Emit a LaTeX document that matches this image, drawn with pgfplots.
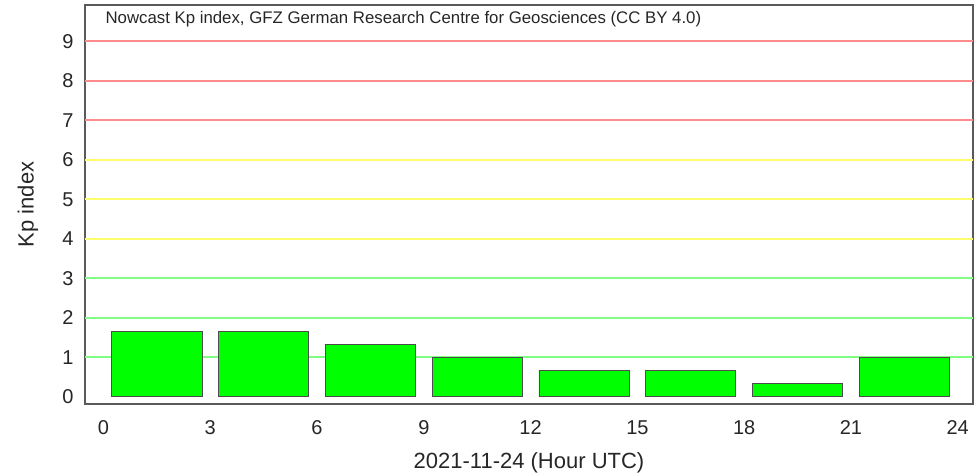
\documentclass[border=0pt]{standalone}
\usepackage{pgfplots}
\pgfplotsset{compat=1.18}
\usepackage{fontspec}
\setmainfont{Liberation Sans}
\definecolor{barg}{RGB}{0,255,0}
\definecolor{gridr}{RGB}{255,140,140}
\definecolor{gridy}{RGB}{255,255,110}
\definecolor{gridg}{RGB}{130,255,130}
\definecolor{frame}{RGB}{90,90,90}
\begin{document}
\begin{tikzpicture}
\useasboundingbox (0,0) rectangle (974pt,476pt);
\begin{axis}[
  at={(85pt,72pt)}, anchor=south west,
  scale only axis, width=888pt, height=399pt,
  xmin=-0.52, xmax=24.43, ymin=-0.18, ymax=9.92,
  xtick={0,3,...,24}, ytick={0,1,...,9},
  tick style={draw=none},
  axis line style={draw=frame, line width=1.3pt},
  /pgf/number format/assume math mode=true,
  tick label style={font=\fontsize{20}{23}\selectfont, text=black!85},
  yticklabel style={xshift=-8pt},
  xticklabel style={yshift=-13pt},
  xlabel={2021-11-24 (Hour UTC)},
  ylabel={Kp index},
  label style={font=\fontsize{22}{26}\selectfont, text=black!85},
  xlabel style={at={(0.5,0)}, anchor=center, yshift=-59pt},
  ylabel style={at={(0,0.5)}, anchor=center, rotate=0, yshift=57pt},
  clip=false,
]
\addplot[gridr, line width=2pt, forget plot] coordinates {(-0.52,9) (24.43,9)};
\addplot[gridr, line width=2pt, forget plot] coordinates {(-0.52,8) (24.43,8)};
\addplot[gridr, line width=2pt, forget plot] coordinates {(-0.52,7) (24.43,7)};
\addplot[gridy, line width=2pt, forget plot] coordinates {(-0.52,6) (24.43,6)};
\addplot[gridy, line width=2pt, forget plot] coordinates {(-0.52,5) (24.43,5)};
\addplot[gridy, line width=2pt, forget plot] coordinates {(-0.52,4) (24.43,4)};
\addplot[gridg, line width=2pt, forget plot] coordinates {(-0.52,3) (24.43,3)};
\addplot[gridg, line width=2pt, forget plot] coordinates {(-0.52,2) (24.43,2)};
\addplot[gridg, line width=2pt, forget plot] coordinates {(-0.52,1) (24.43,1)};
\addplot[ybar, bar width=2.53, fill=barg, draw=black!70, line width=0.8pt] coordinates {
  (1.5,1.667) (4.5,1.667) (7.5,1.333) (10.5,1.0) (13.5,0.667) (16.5,0.667) (19.5,0.333) (22.5,1.0)
};
\node[anchor=west, font=\fontsize{16.8}{19}\selectfont, text=black!85] at (rel axis cs:0,1) [xshift=17pt, yshift=-14pt] {Nowcast Kp index, GFZ German Research Centre for Geosciences (CC BY 4.0)};
\end{axis}
\end{tikzpicture}
\end{document}
